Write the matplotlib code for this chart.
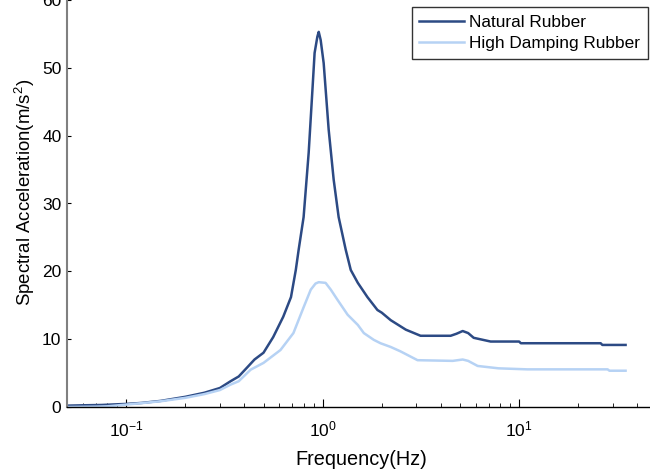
import matplotlib
matplotlib.use("Agg")
import matplotlib.pyplot as plt
from matplotlib.ticker import LogLocator, NullFormatter, FixedLocator

# Fonts
plt.rcParams["font.family"] = ["Liberation Sans", "DejaVu Sans"]
plt.rcParams["mathtext.fontset"] = "custom"
plt.rcParams["mathtext.rm"] = "Liberation Sans"
plt.rcParams["mathtext.it"] = "Liberation Sans"

# Data
nr_freq = [0.05, 0.06, 0.075, 0.09, 0.1, 0.12, 0.15, 0.2, 0.25, 0.3, 0.34, 0.374, 0.415, 0.45,
           0.5, 0.56, 0.63, 0.69, 0.73, 0.755, 0.8, 0.849, 0.889, 0.91, 0.94, 0.955, 0.977, 1.012,
           1.073, 1.138, 1.206, 1.31, 1.39, 1.51, 1.69, 1.9, 2.0, 2.22, 2.65, 3.15, 4.48, 4.8,
           5.16, 5.5, 5.87, 7.16, 10.0, 10.2, 26.0, 26.5, 34.8]
nr_acc = [0.2, 0.25, 0.3, 0.4, 0.45, 0.6, 0.9, 1.5, 2.1, 2.8, 3.8, 4.5, 5.9, 7.0,
          8.0, 10.3, 13.3, 16.2, 20.2, 23.2, 28.0, 37.5, 47.2, 52.2, 54.6, 55.3, 54.1, 50.7,
          40.9, 33.5, 28.0, 23.2, 20.2, 18.3, 16.2, 14.3, 13.9, 12.8, 11.4, 10.5, 10.5, 10.8,
          11.2, 10.9, 10.2, 9.65, 9.65, 9.4, 9.4, 9.15, 9.15]

hdr_freq = [0.05, 0.07, 0.08, 0.1, 0.15, 0.2, 0.25, 0.3, 0.34, 0.374, 0.43, 0.5, 0.61, 0.71,
            0.8, 0.87, 0.92, 0.955, 1.035, 1.1, 1.19, 1.34, 1.51, 1.62, 1.82, 1.97, 2.22,
            2.49, 3.04, 4.59, 5.16, 5.5, 6.15, 7.86, 11.0, 28.2, 28.8, 34.8]
hdr_acc = [0.0, 0.05, 0.1, 0.35, 0.85, 1.35, 1.9, 2.5, 3.3, 3.8, 5.5, 6.5, 8.4, 10.9,
           14.7, 17.3, 18.2, 18.4, 18.3, 17.3, 15.8, 13.6, 12.1, 10.9, 9.9, 9.4, 8.85,
           8.2, 6.9, 6.8, 7.0, 6.8, 6.05, 5.7, 5.55, 5.55, 5.35, 5.35]

y_ticks = [0, 10, 20, 30, 40, 50, 60]

# Plot
fig = plt.figure(figsize=(6.5, 4.69), dpi=100)
ax = fig.add_axes([67 / 650, 62 / 469, 589.5 / 650, 407 / 469])

ax.plot(nr_freq, nr_acc, color="#2C4A84", lw=1.8, label="Natural Rubber")
ax.plot(hdr_freq, hdr_acc, color="#B6D2F4", lw=1.8, label="High Damping Rubber")

ax.set_xscale("log")
ax.set_xlim(0.05, 50)
ax.set_ylim(0, 60)
ax.yaxis.set_major_locator(FixedLocator(y_ticks))
ax.xaxis.set_major_locator(LogLocator(base=10))
ax.xaxis.set_minor_locator(LogLocator(base=10, subs=range(2, 10)))
ax.xaxis.set_minor_formatter(NullFormatter())

for side in ["top", "right"]:
    ax.spines[side].set_visible(False)
ax.spines["left"].set_color("#808080")
ax.spines["left"].set_linewidth(1.5)
ax.spines["bottom"].set_color("black")
ax.spines["bottom"].set_linewidth(1.0)

ax.tick_params(axis="both", which="both", direction="in", labelsize=12.5)
ax.tick_params(axis="x", which="major", length=6, pad=9)
ax.tick_params(axis="x", which="minor", length=3)
ax.tick_params(axis="y", which="major", length=3, pad=4)

ax.set_xlabel("Frequency(Hz)", fontsize=14.3)
ax.xaxis.set_label_coords(0.5, -0.105)
ax.set_ylabel("Spectral Acceleration(m/s$^2$)", fontsize=13.4)
ax.yaxis.set_label_coords(-0.051, 0.528)

leg = ax.legend(loc="upper right", bbox_to_anchor=(648 / 650, 1 - 7 / 469),
                bbox_transform=fig.transFigure, fontsize=12.4, frameon=True,
                fancybox=False, borderaxespad=0, handlelength=2.6,
                handletextpad=0.3, labelspacing=0.35, borderpad=0.45)
leg.get_frame().set_edgecolor("black")
leg.get_frame().set_linewidth(1.0)

fig.savefig("out.png", dpi=100)
